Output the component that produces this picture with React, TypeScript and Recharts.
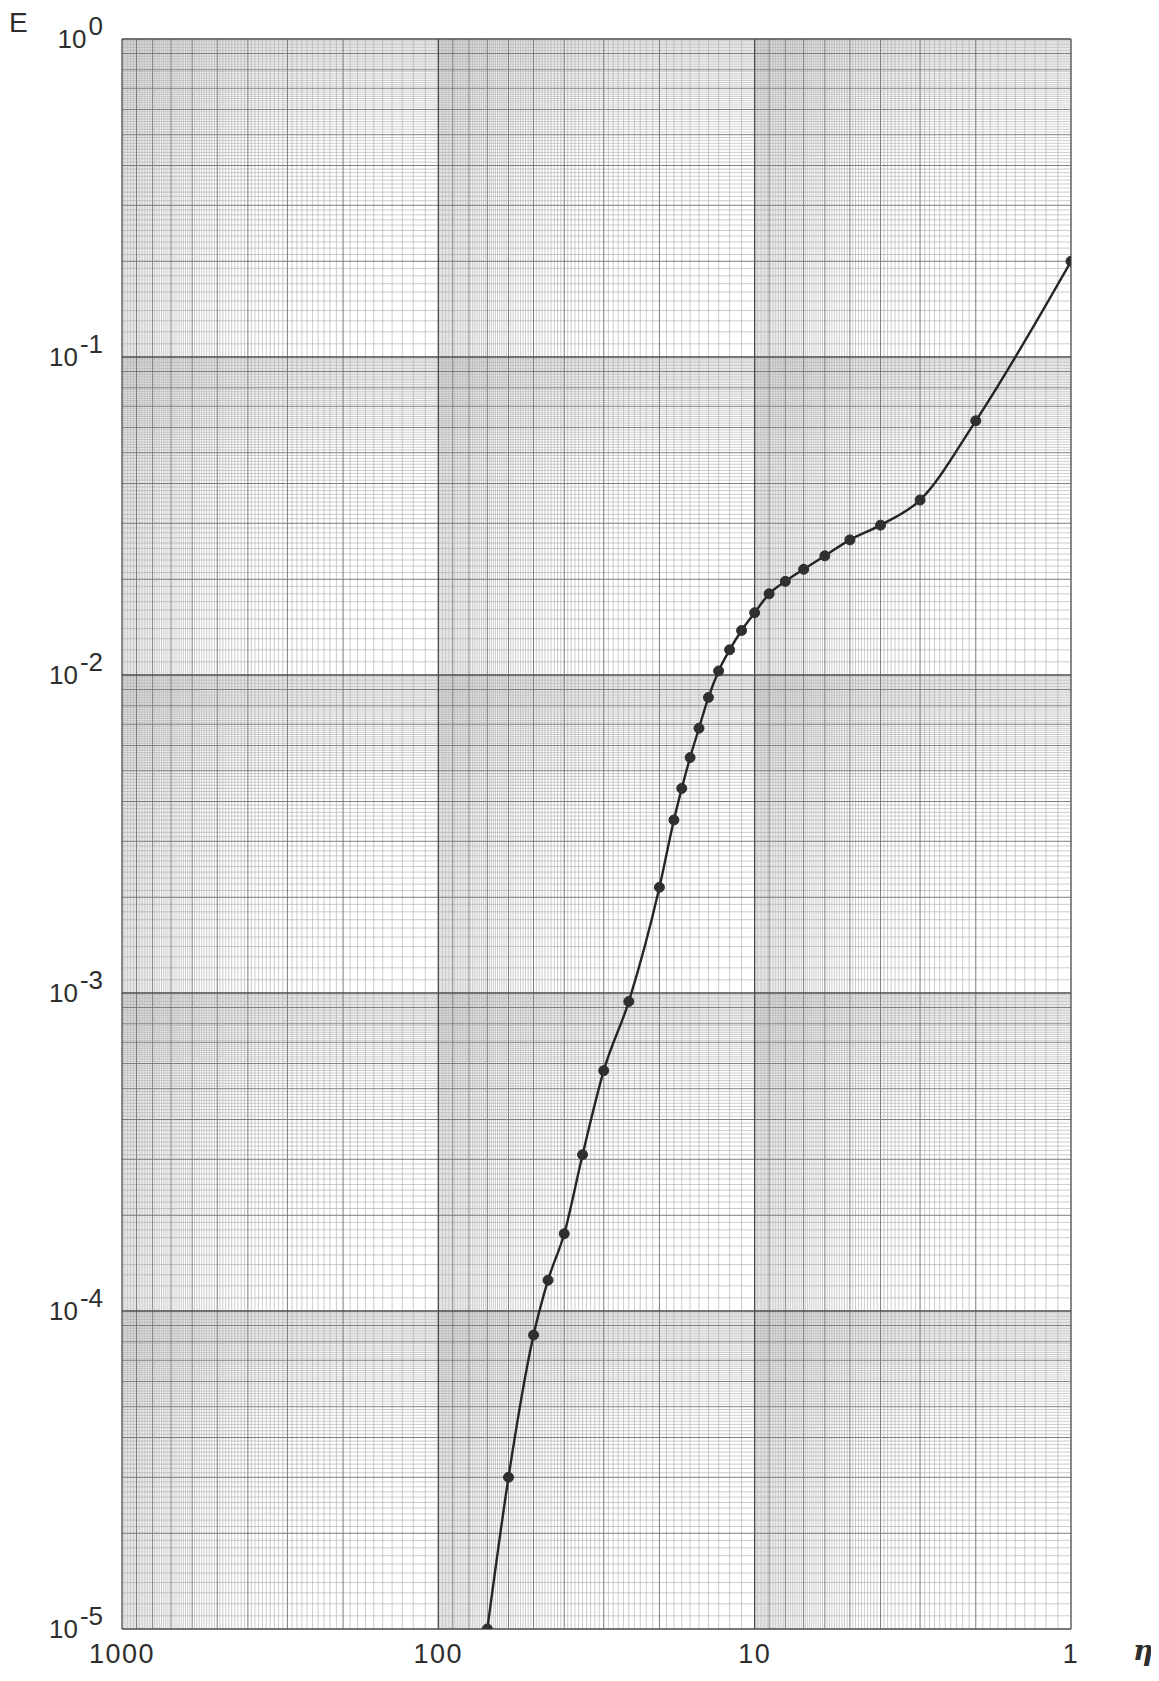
import React from "react";
import { LineChart, Line, XAxis, YAxis, CartesianGrid } from "recharts";

// η read from the paper (decreasing to the right)
const etaValues = [
  70, 60, 50, 45, 40, 35, 30, 25, 20, 18, 17, 16, 15, 14, 13, 12, 11, 10, 9, 8, 7, 6, 5, 4, 3, 2, 1,
];
// E at each η
const eValues = [
  1.0e-5, 3.0e-5, 8.4e-5, 1.25e-4, 1.75e-4, 3.1e-4, 5.7e-4, 9.4e-4, 2.15e-3, 3.5e-3, 4.4e-3,
  5.5e-3, 6.8e-3, 8.5e-3, 1.03e-2, 1.2e-2, 1.38e-2, 1.57e-2, 1.8e-2, 1.97e-2, 2.15e-2, 2.37e-2,
  2.66e-2, 2.96e-2, 3.55e-2, 6.3e-2, 0.2,
];

const etaTicks = [1000, 100, 10, 1];
const eTicks = [1, 0.1, 0.01, 0.001, 0.0001, 0.00001];

// decades printed on the log paper
const etaDecades = [1, 10, 100];
const eDecades = [0.00001, 0.0001, 0.001, 0.01, 0.1];

// log paper rulings: fine lines every tenth of a decade unit, heavier ones on the integers
const paperLines = (decades: number[]) => {
  const fine: number[] = [];
  const medium: number[] = [];
  decades.forEach((d) => {
    for (let k = 11; k < 100; k++) {
      if (k % 10 === 0) medium.push((k / 10) * d);
      else fine.push((k / 10) * d);
    }
  });
  return { fine, medium };
};

const etaGrid = paperLines(etaDecades);
const eGrid = paperLines(eDecades);

const data = etaValues.map((eta, i) => ({ eta, E: eValues[i] }));

const FONT = "'Liberation Sans', Arial, sans-serif";

const PowerTick = (props: any) => {
  const { x, y, payload } = props;
  const exp = Math.round(Math.log10(payload.value));
  return (
    <text x={x - 19} y={y + 9} textAnchor="end" fontFamily={FONT} fontSize={26} fill="#2e2e2e">
      10
      <tspan dx={2} dy={-13}>
        {String(exp)}
      </tspan>
    </text>
  );
};

const EtaTick = (props: any) => {
  const { x, y, payload } = props;
  return (
    <text
      x={x}
      y={y + 34}
      textAnchor="middle"
      fontFamily={FONT}
      fontSize={27}
      letterSpacing={1.5}
      fill="#2e2e2e"
    >
      {payload.value}
    </text>
  );
};

const yName = (props: any) => {
  const vb = props.viewBox || { x: 0, y: 31 };
  return (
    <text x={vb.x + 1} y={vb.y - 7} fontFamily={FONT} fontSize={28} fill="#2e2e2e">
      E
    </text>
  );
};

const xName = (props: any) => {
  const vb = props.viewBox || { x: 114, y: 1621, width: 949 };
  return (
    <text
      x={vb.x + vb.width + 62}
      y={vb.y + 31}
      fontFamily="'DejaVu Serif', serif"
      fontStyle="italic"
      fontWeight="bold"
      fontSize={28}
      fill="#2e2e2e"
    >
      η
    </text>
  );
};

export default function App() {
  return (
    <div style={{ width: 1151, height: 1660, background: "#fff" }}>
      <LineChart
        width={1151}
        height={1660}
        data={data}
        margin={{ top: 31, right: 88, bottom: 0, left: 0 }}
      >
        <XAxis
          dataKey="eta"
          type="number"
          scale="log"
          domain={[1, 1000]}
          reversed
          allowDataOverflow
          ticks={etaTicks}
          interval={0}
          height={39}
          axisLine={false}
          tickLine={false}
          tickSize={0}
          tickMargin={0}
          tick={<EtaTick />}
          label={xName}
        />
        <YAxis
          type="number"
          scale="log"
          domain={[0.00001, 1]}
          allowDataOverflow
          ticks={eTicks}
          interval={0}
          width={114}
          axisLine={false}
          tickLine={false}
          tickSize={0}
          tickMargin={0}
          tick={<PowerTick />}
          label={yName}
        />
        <CartesianGrid
          horizontalValues={eGrid.fine}
          verticalValues={etaGrid.fine}
          stroke="#a9a9a9"
          strokeWidth={0.6}
        />
        <CartesianGrid
          horizontalValues={eGrid.medium}
          verticalValues={etaGrid.medium}
          stroke="#6e6e6e"
          strokeWidth={0.9}
        />
        <CartesianGrid
          horizontalValues={eTicks}
          verticalValues={etaTicks}
          stroke="#4a4a4a"
          strokeWidth={1.3}
        />
        <Line
          dataKey="E"
          type="monotone"
          stroke="#252525"
          strokeWidth={2.4}
          dot={{ r: 5, fill: "#2f2f2f", stroke: "#2f2f2f", strokeWidth: 1 }}
          isAnimationActive={false}
        />
      </LineChart>
    </div>
  );
}
